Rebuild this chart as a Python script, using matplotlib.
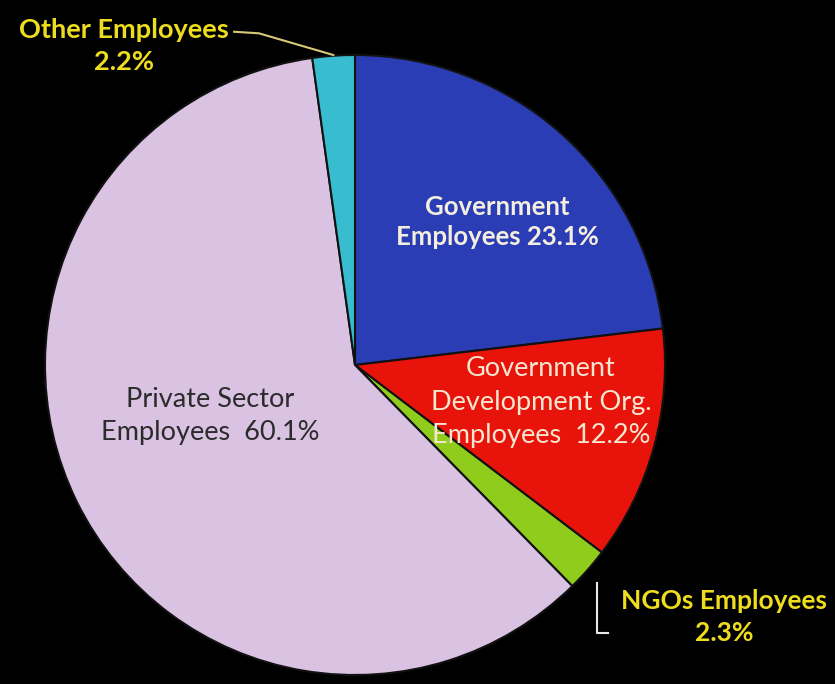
import matplotlib.pyplot as plt
from matplotlib.lines import Line2D

# slices, clockwise from 12 o'clock
labels = ['Government Employees', 'Government Development Org. Employees',
          'NGOs Employees', 'Private Sector Employees', 'Other Employees']
shares = [23.1, 12.2, 2.3, 60.1, 2.2]
colors = ['#2a3db4', '#e8140c', '#8fcc1c', '#d9c2e2', '#38bccf']

fig = plt.figure(figsize=(8.35, 6.84), dpi=100, facecolor='black')
ax = fig.add_axes([0, 0, 1, 1])
ax.set_facecolor('black')

ax.pie(shares, colors=colors, startangle=90, counterclock=False, radius=1.0,
       wedgeprops={'edgecolor': '#111111', 'linewidth': 1.5})

# pixel-matched limits (pie centre at 355,365 px, radius 310 px)
ax.set_xlim(-355 / 310, (835 - 355) / 310)
ax.set_ylim(-(684 - 365) / 310, 365 / 310)
ax.set_aspect('auto')
ax.axis('off')

fam = ['Lato', 'DejaVu Sans']
ax.text(0.458, 0.461, 'Government\nEmployees 23.1%', color='#f4eedf',
        fontsize=18.5, fontweight='bold', ha='center', va='center',
        family=fam, linespacing=1.3)
ax.text(0.6, -0.12, 'Government\nDevelopment Org.\nEmployees  12.2%', color='#f4e6cf',
        fontsize=19.5, ha='center', va='center', family=fam, linespacing=1.42)
ax.text(-0.468, -0.165, 'Private Sector\nEmployees  60.1%', color='#2b2b2b',
        fontsize=19.5, ha='center', va='center', family=fam, linespacing=1.42)

yellow = '#eedc1e'
ax.text(-0.745, 1.03, 'Other Employees\n2.2%', color=yellow, fontsize=19.5,
        fontweight='bold', ha='center', va='center', family=fam, linespacing=1.4)
ax.text(1.19, -0.813, 'NGOs Employees\n2.3%', color=yellow, fontsize=19,
        fontweight='bold', ha='center', va='center', family=fam, linespacing=1.4)

# leader lines
ax.add_line(Line2D([-0.39, -0.31, -0.07], [1.075, 1.07, 1.0], color='#d8c878', lw=1.5))
ax.add_line(Line2D([0.781, 0.781, 0.816], [-0.703, -0.865, -0.865], color='#e8e8e8', lw=1.5))

fig.savefig('out.png', dpi=100, facecolor='black')
